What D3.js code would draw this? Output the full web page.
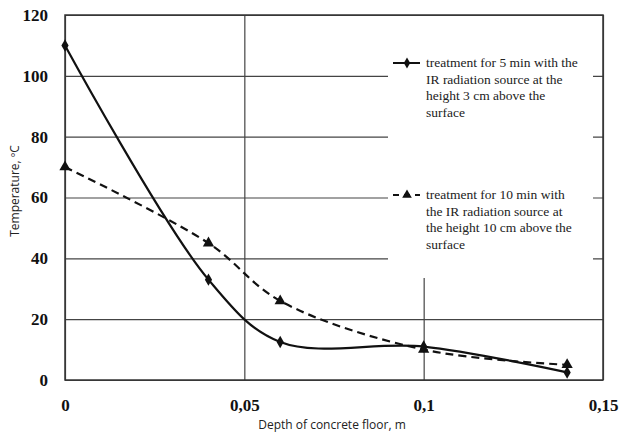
<!DOCTYPE html>
<meta charset="utf-8">
<script src="https://d3js.org/d3.v7.min.js"></script>
<style>
  body { margin: 0; background: #fff; }
  .tick text { font-family: "Liberation Serif", "Times New Roman", serif; font-weight: bold; font-size: 17px; fill: #111; }
</style>
<body>
<div id="chart"></div>
<script>
// data
var depth = [0, 0.04, 0.06, 0.1, 0.14];
var temp5min = [110, 33, 12.5, 11, 2.5];
var temp10min = [70, 45, 26, 10, 5];
var xTicks = [0, 0.05, 0.1, 0.15];
var xTickLabels = ["0", "0,05", "0,1", "0,15"];
var yTicks = [0, 20, 40, 60, 80, 100, 120];
var legend1 = ["treatment for 5 min with the", "IR radiation source at the", "height 3 cm above the", "surface"];
var legend2 = ["treatment for 10 min with", "the IR radiation source at", "the height 10 cm above the", "surface"];

var margin = {top: 15, right: 17, bottom: 54, left: 65},
    width = 620 - margin.left - margin.right,
    height = 434 - margin.top - margin.bottom;

var svg = d3.select("#chart")
  .append("svg")
    .attr("width", 620)
    .attr("height", 434)
  .append("g")
    .attr("transform", "translate(" + margin.left + "," + margin.top + ")");

var x = d3.scaleLinear().domain([0, 0.15]).range([0, width]);
var y = d3.scaleLinear().domain([0, 120]).range([height, 0]);

// grid lines
svg.append("g")
  .attr("transform", "translate(0," + height + ")")
  .call(d3.axisBottom(x).tickValues(xTicks).tickSize(-height).tickFormat(""))
  .call(g => g.select(".domain").remove())
  .selectAll("line").attr("stroke", "#444").attr("stroke-width", 1.2);

svg.append("g")
  .call(d3.axisLeft(y).tickValues(yTicks).tickSize(-width).tickFormat(""))
  .call(g => g.select(".domain").remove())
  .selectAll("line").attr("stroke", "#444").attr("stroke-width", 1.2);

// legend background hides the grid behind it
svg.append("rect")
  .attr("x", 323).attr("y", 1)
  .attr("width", 205).attr("height", 262)
  .attr("fill", "#fff");

// frame
svg.append("rect")
  .attr("width", width).attr("height", height)
  .attr("fill", "none").attr("stroke", "#333").attr("stroke-width", 1.5);

// tick labels
svg.append("g")
  .attr("transform", "translate(0," + height + ")")
  .call(d3.axisBottom(x).tickValues(xTicks).tickSize(0).tickPadding(19)
    .tickFormat(function(d, i) { return xTickLabels[i]; }))
  .call(g => g.select(".domain").remove());

svg.append("g")
  .call(d3.axisLeft(y).tickValues(yTicks).tickSize(0).tickPadding(17))
  .call(g => g.select(".domain").remove());

// lines
var line = d3.line()
  .x(function(d, i) { return x(depth[i]); })
  .y(function(d) { return y(d); })
  .curve(d3.curveCatmullRom.alpha(0.5));

svg.append("path")
  .datum(temp10min)
  .attr("fill", "none").attr("stroke", "#111").attr("stroke-width", 2.2)
  .attr("stroke-dasharray", "8,5")
  .attr("d", line);

svg.append("path")
  .datum(temp5min)
  .attr("fill", "none").attr("stroke", "#111").attr("stroke-width", 2.2)
  .attr("d", line);

// markers
svg.selectAll(".tri")
  .data(temp10min)
  .enter().append("path")
    .attr("d", d3.symbol().type(d3.symbolTriangle).size(55))
    .attr("transform", function(d, i) { return "translate(" + x(depth[i]) + "," + y(d) + ")"; })
    .attr("fill", "#111");

svg.selectAll(".dia")
  .data(temp5min)
  .enter().append("path")
    .attr("d", d3.symbol().type(d3.symbolDiamond).size(45))
    .attr("transform", function(d, i) { return "translate(" + x(depth[i]) + "," + y(d) + ")"; })
    .attr("fill", "#111");

// legend
function legendEntry(lines, top, dashed, symbol) {
  var g = svg.append("g").attr("transform", "translate(328," + top + ")");
  g.append("line")
    .attr("x1", 0).attr("x2", 27).attr("y1", 0).attr("y2", 0)
    .attr("stroke", "#111").attr("stroke-width", 2)
    .attr("stroke-dasharray", dashed ? "6,5" : null);
  g.append("path")
    .attr("d", d3.symbol().type(symbol).size(dashed ? 40 : 35))
    .attr("transform", "translate(14,0)")
    .attr("fill", "#111");
  g.append("text")
    .attr("x", 33).attr("y", 4)
    .style("font-family", "'Liberation Serif', 'Times New Roman', serif")
    .style("font-size", "13.5px")
    .attr("fill", "#222")
    .selectAll("tspan")
    .data(lines)
    .enter().append("tspan")
      .attr("x", 33)
      .attr("dy", function(d, i) { return i ? 16.7 : 0; })
      .text(function(d) { return d; });
}
legendEntry(legend1, 48, false, d3.symbolDiamond);
legendEntry(legend2, 180, true, d3.symbolTriangle);

// axis titles
svg.append("text")
  .attr("x", 267).attr("y", 414)
  .attr("text-anchor", "middle")
  .style("font-family", "'Open Sans', sans-serif")
  .style("font-size", "12px")
  .attr("fill", "#222")
  .text("Depth of concrete floor, m");

svg.append("text")
  .attr("transform", "translate(-46," + 176 + ") rotate(-90)")
  .attr("text-anchor", "middle")
  .style("font-family", "'Open Sans', sans-serif")
  .style("font-size", "12px")
  .attr("fill", "#222")
  .text("Temperature, ºC");
</script>
</body>
